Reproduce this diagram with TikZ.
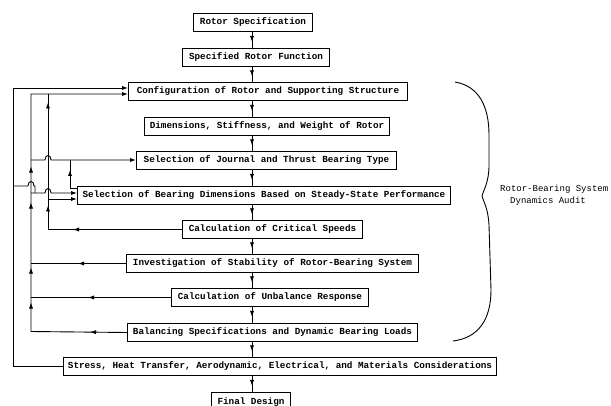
\documentclass[tikz,border=0pt]{standalone}
\usepackage{fontspec}
\setmonofont{Liberation Mono}
\usetikzlibrary{arrows.meta,decorations.markings}
\begin{document}
\begin{tikzpicture}[x=1pt,y=-1pt,
  box/.style={draw, line width=1pt, inner sep=0pt, anchor=north west,
    font=\ttfamily\bfseries\fontsize{9.3}{11}\selectfont},
  lbl/.style={inner sep=0pt, font=\ttfamily\fontsize{9}{11}\selectfont},
  fb/.style={line width=0.9pt},
  tip/.style={-{Latex[length=6pt,width=4.2pt]}},
  am/.style={postaction={decorate,decoration={markings,
    mark=at position #1 with {\arrow{Latex[length=6pt,width=4.2pt]}}}}},
  chain/.style={line width=0.9pt, am=0.62}
]
\useasboundingbox (0,0) rectangle (611,406);
\clip (0,0) rectangle (611,406);
% boxes
\node[box, minimum width=119pt, minimum height=18pt] (b1) at (193,13) {Rotor Specification};
\node[box, minimum width=147pt, minimum height=18pt] (b2) at (182,48) {Specified Rotor Function};
\node[box, minimum width=279pt, minimum height=18pt] (b3) at (128,82) {Configuration of Rotor and Supporting Structure};
\node[box, minimum width=245pt, minimum height=18pt] (b4) at (144,117) {Dimensions, Stiffness, and Weight of Rotor};
\node[box, minimum width=260pt, minimum height=18pt] (b5) at (136,151) {Selection of Journal and Thrust Bearing Type};
\node[box, minimum width=373pt, minimum height=18pt] (b6) at (77,186) {Selection of Bearing Dimensions Based on Steady-State Performance};
\node[box, minimum width=180pt, minimum height=18pt] (b7) at (182,220) {Calculation of Critical Speeds};
\node[box, minimum width=292pt, minimum height=18pt] (b8) at (126,254) {Investigation of Stability of Rotor-Bearing System};
\node[box, minimum width=197pt, minimum height=18pt] (b9) at (171,288) {Calculation of Unbalance Response};
\node[box, minimum width=290pt, minimum height=18pt] (b10) at (127,323) {Balancing Specifications and Dynamic Bearing Loads};
\node[box, minimum width=433pt, minimum height=18pt] (b11) at (63,357) {Stress, Heat Transfer, Aerodynamic, Electrical, and Materials Considerations};
\node[box, minimum width=79pt, minimum height=20pt] (b12) at (211,392) {Final Design};
% main chain
\coordinate (cx) at (252,0);
\foreach \a/\b in {b1/b2,b2/b3,b3/b4,b4/b5,b5/b6,b6/b7,b7/b8,b8/b9,b9/b10,b10/b11,b11/b12}
  \draw[chain] (\a.south -| cx) -- (\b.north -| cx);
% junction coordinates
\coordinate (j1) at (13,186);
\coordinate (j2) at (31,160);
\coordinate (j3) at (31,193);
\coordinate (j4) at (48,199);
\coordinate (j5) at (48,94);
\coordinate (j6) at (70,160);
% V1: stress -> configuration
\draw[fb,tip] (b11.west) -| (13,88) -- (b3.west |- 0,88);
\draw[fb] (j1) -- (28,186) .. controls (28,180) and (34,180) .. (34,186) -- (35,186) -- (35,193);
% V2: balancing / unbalance / stability -> configuration
\draw[fb,tip,am=37pt,am=125pt,am=160pt,am=225pt,am=261pt] (b10.west) -- (31,331.5) -- (31,94) -- (b3.west |- 0,94);
\draw[fb,am=83pt] (b9.west) -- (b9.west -| j2);
\draw[fb,am=48pt] (b8.west) -- (b8.west -| j2);
\draw[fb,tip] (j2) -- (45,160) .. controls (45,154) and (51,154) .. (51,160) -- (b5.west |- j2);
\draw[fb,tip] (j3) -- (45,193) .. controls (45,187) and (51,187) .. (51,193) -- (b6.west |- j3);
% V3: critical speeds -> configuration / bearing dimensions
\draw[fb,am=109pt,am=158pt,am=261pt] (b7.west) -| (j5);
\draw[fb,tip] (j4) -- (b6.west |- j4);
% V4: bearing dimensions -> journal type
\draw[fb,am=25pt] (b6.west |- 0,188) -| (j6);
% brace
\draw[line width=0.9pt] (455,82) .. controls (478,86) and (489,105) .. (489,135)
  -- (489,165) .. controls (489,182) and (484,189) .. (482,196)
  .. controls (484,203) and (488,208) .. (489,225) -- (491,290)
  .. controls (491,320) and (478,338) .. (453,341);
\node[lbl, anchor=west] (t1) at (500,189) {Rotor-Bearing System};
\node[lbl, anchor=west] (t2) at (510,201) {Dynamics Audit};
\end{tikzpicture}
\end{document}
